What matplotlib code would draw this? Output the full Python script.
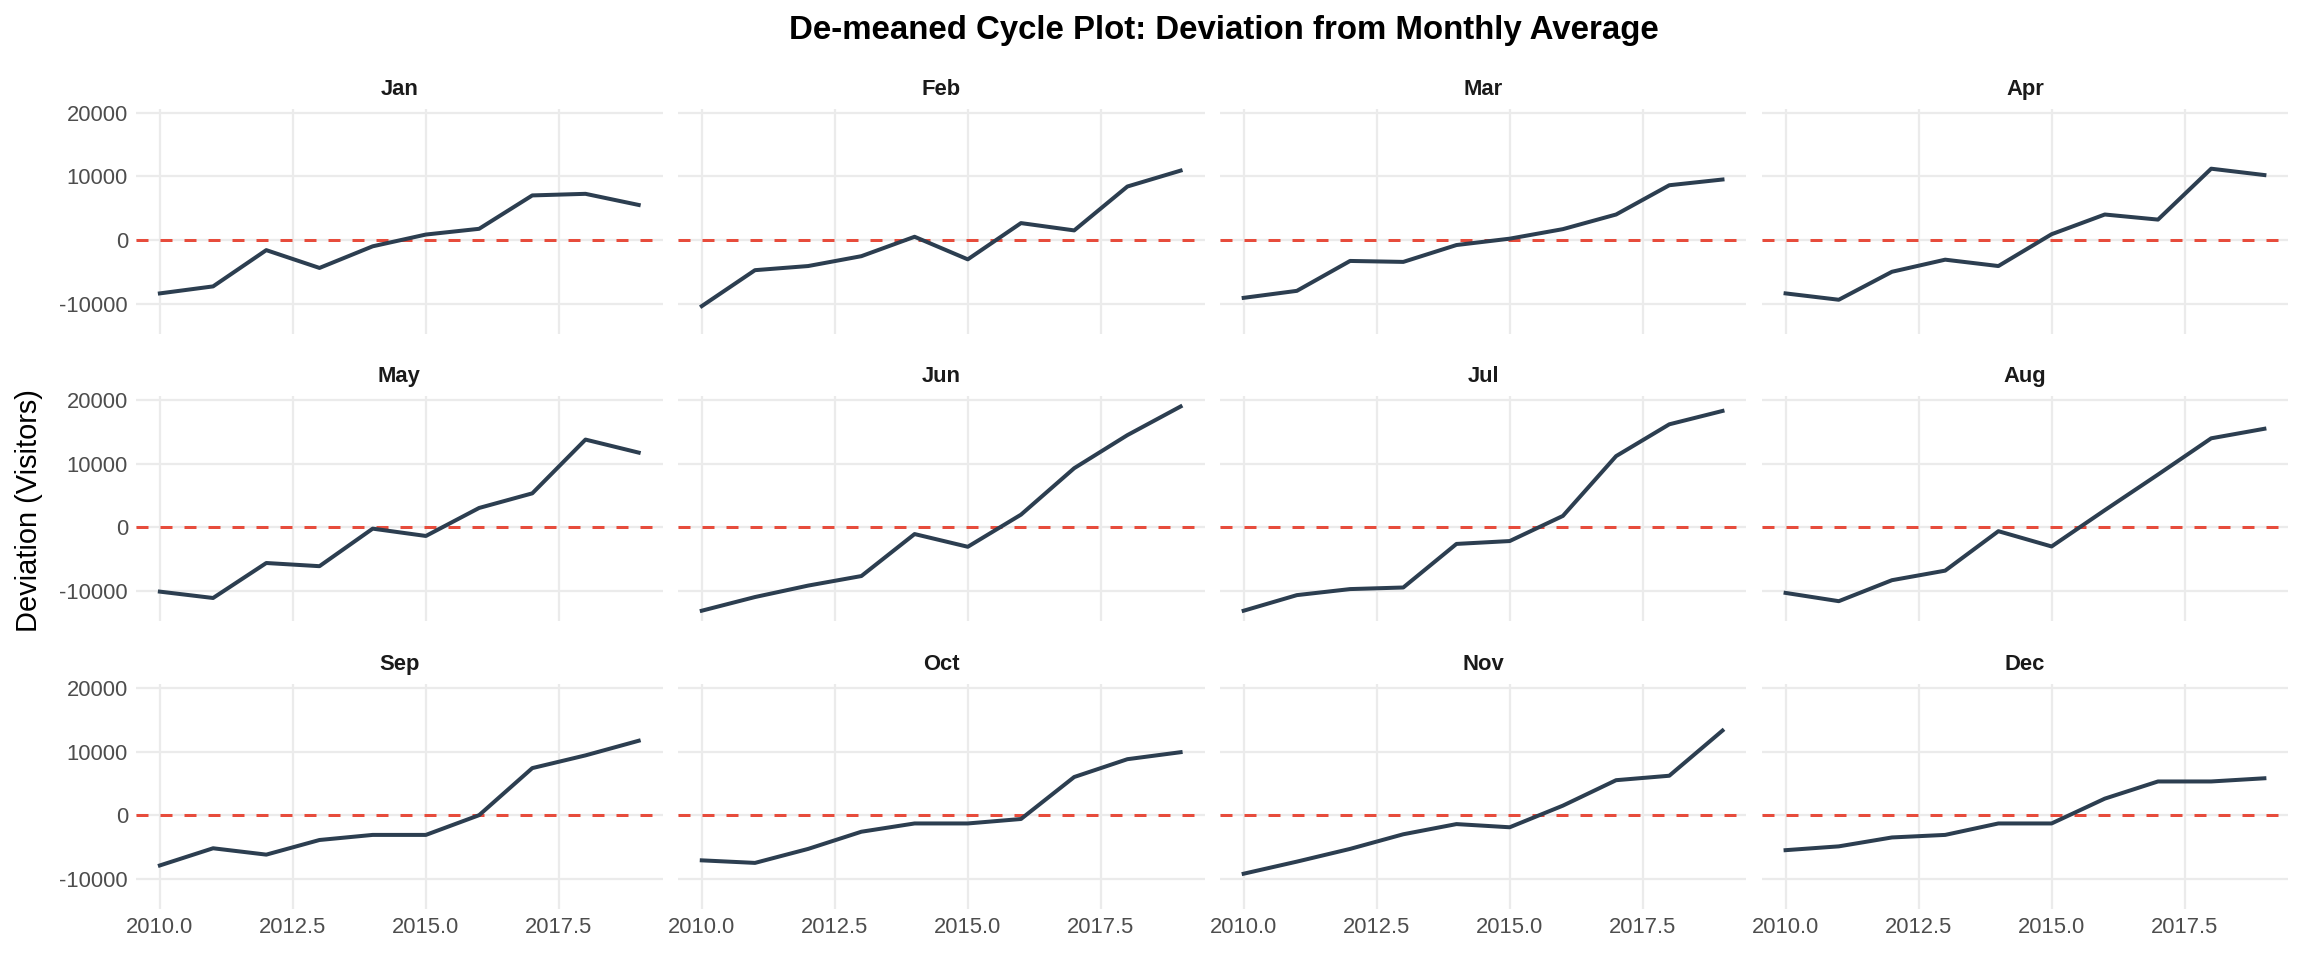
import matplotlib
matplotlib.use("Agg")
import matplotlib.pyplot as plt
import numpy as np

plt.rcParams['font.family'] = ['Liberation Sans', 'DejaVu Sans']
plt.rcParams['axes.unicode_minus'] = False

years = [2010, 2011, 2012, 2013, 2014, 2015, 2016, 2017, 2018, 2019]
months = ["Jan", "Feb", "Mar", "Apr", "May", "Jun",
          "Jul", "Aug", "Sep", "Oct", "Nov", "Dec"]

jan = [-8400, -7300, -1600, -4400, -1000, 850, 1750, 7000, 7250, 5500]
feb = [-10400, -4750, -4100, -2550, 500, -3050, 2650, 1500, 8400, 10900]
mar = [-9100, -8000, -3300, -3450, -800, 200, 1700, 4000, 8600, 9500]
apr = [-8400, -9400, -5000, -3100, -4100, 900, 4000, 3200, 11200, 10200]
may = [-10100, -11100, -5600, -6100, -200, -1350, 3050, 5350, 13800, 11750]
jun = [-13100, -10950, -9150, -7650, -1050, -3050, 2000, 9300, 14500, 19000]
jul = [-13100, -10650, -9700, -9450, -2600, -2150, 1800, 11200, 16200, 18300]
aug = [-10300, -11600, -8300, -6800, -600, -3000, 2700, 8300, 14000, 15500]
sep = [-7900, -5200, -6200, -3900, -3100, -3100, 0, 7400, 9400, 11700]
oct_ = [-7100, -7500, -5300, -2600, -1300, -1300, -600, 6000, 8800, 9900]
nov = [-9200, -7300, -5300, -3000, -1400, -1900, 1500, 5500, 6200, 13300]
dec = [-5500, -4900, -3500, -3100, -1300, -1300, 2600, 5300, 5300, 5800]

series = [jan, feb, mar, apr, may, jun, jul, aug, sep, oct_, nov, dec]

x_ticks = [2010.0, 2012.5, 2015.0, 2017.5]
x_tick_labels = ["2010.0", "2012.5", "2015.0", "2017.5"]
y_ticks = [-10000, 0, 10000, 20000]
y_tick_labels = ["-10000", "0", "10000", "20000"]

W, H = 2304, 960
dpi = 144
fig = plt.figure(figsize=(W / dpi, H / dpi), dpi=dpi)
fig.patch.set_facecolor("white")

all_vals = np.concatenate([np.array(s) for s in series])
vmin, vmax = all_vals.min(), all_vals.max()
ypad = (vmax - vmin) * 0.05
xpad = (max(years) - min(years)) * 0.05

col_left0 = 0.0590
col_step = 0.2352
col_w = 0.2286
row_bottoms = [0.6526, 0.3532, 0.0534]
row_h = 0.2340

grid_color = "#EBEBEB"
line_color = "#2C3E50"
ref_color = "#E74C3C"
tick_color = "#4D4D4D"

for i, (m, vals) in enumerate(zip(months, series)):
    r, c = divmod(i, 4)
    ax = fig.add_axes([col_left0 + c * col_step, row_bottoms[r], col_w, row_h])
    ax.set_xlim(min(years) - xpad, max(years) + xpad)
    ax.set_ylim(vmin - ypad, vmax + ypad)
    ax.set_xticks(x_ticks)
    ax.set_yticks(y_ticks)
    if r == 2:
        ax.set_xticklabels(x_tick_labels)
    else:
        ax.set_xticklabels([])
    if c == 0:
        ax.set_yticklabels(y_tick_labels)
    else:
        ax.set_yticklabels([])
    ax.tick_params(length=0, labelsize=11, labelcolor=tick_color, pad=4)
    ax.grid(True, color=grid_color, linewidth=1.1)
    ax.set_axisbelow(True)
    for sp in ax.spines.values():
        sp.set_visible(False)
    ax.axhline(0, color=ref_color, linestyle=(0, (4, 4)), linewidth=1.5, zorder=2)
    ax.plot(years, vals, color=line_color, linewidth=2.0, zorder=3)
    ax.set_title(m, fontsize=11, fontweight="bold", color="#1A1A1A", pad=7)

fig.text(0.531, 0.968, "De-meaned Cycle Plot: Deviation from Monthly Average",
         ha="center", va="center", fontsize=16.5, fontweight="bold", color="black")
fig.text(0.0125, 0.468, "Deviation (Visitors)", rotation=90, ha="center",
         va="center", fontsize=14.5, color="black")

fig.savefig("out.png", dpi=dpi, facecolor="white")
